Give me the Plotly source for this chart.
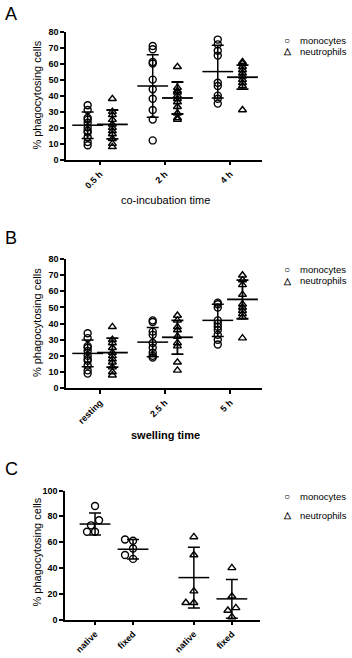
import plotly.graph_objects as go

# ---------------- data ----------------
A_categories = ["0.5 h", "2 h", "4 h"]
A_mono = [
    [34, 31, 26, 25, 23, 20, 18, 17, 14, 11, 9],
    [71, 69, 61, 60, 50, 44, 38, 31, 25, 12],
    [75, 72, 68, 65, 48, 46, 40, 38, 35],
]
A_neutro = [
    [38, 30, 28, 25, 22, 20, 18, 16, 13, 10, 8],
    [58, 45, 43, 42, 40, 38, 36, 33, 29, 26, 25],
    [61, 60, 58, 56, 54, 52, 50, 48, 46, 31],
]
A_mono_mean = [21.5, 46, 55]
A_mono_sd = [8.3, 19.5, 16.5]
A_neutro_mean = [22, 38.5, 51.5]
A_neutro_sd = [9, 10, 7.5]

B_categories = ["resting", "2.5 h", "5 h"]
B_mono = [
    [34, 31, 26, 25, 23, 20, 18, 17, 14, 11, 9],
    [42, 41, 35, 33, 28, 25, 22, 20, 19],
    [53, 52, 50, 42, 40, 38, 36, 33, 30, 27],
]
B_neutro = [
    [38, 30, 28, 25, 22, 20, 18, 16, 13, 10, 8],
    [45, 42, 38, 36, 32, 28, 26, 16, 11],
    [70, 67, 64, 58, 52, 50, 48, 46, 44, 31],
]
B_mono_mean = [21.5, 28.5, 42]
B_mono_sd = [8.3, 9, 10]
B_neutro_mean = [22, 31.5, 55]
B_neutro_sd = [9, 10.5, 12]

C_categories = ["native", "fixed", "native", "fixed"]
C_cell = ["monocytes", "monocytes", "neutrophils", "neutrophils"]
C_values = [
    [88, 77, 73, 68, 68],
    [62, 61, 55, 50, 47],
    [64, 50, 22, 13, 13],
    [40, 18, 9, 7, 2],
]
C_mean = [74, 54.5, 32.5, 16]
C_sd = [8.5, 7.5, 23.5, 15]

# ---------------- layout constants ----------------
W, H = 352, 658
FONT = "Liberation Sans, Arial, sans-serif"
GROUP_OFF = 0.19
C_POS = [0, 1, 2.6, 3.6]
SYM = {"monocytes": "circle-open", "neutrophils": "triangle-up-open"}


def px(xp):
    return xp / W


def py(yp):
    return 1 - yp / H


def swarm(vals, ypx, xpx, diam=7.0, step=4.0):
    placed = []
    res = [0.0] * len(vals)
    order = sorted(range(len(vals)), key=lambda i: vals[i])
    for i in order:
        y = vals[i] * ypx
        dx = 0.0
        for k in [0, -1, 1, -2, 2, -3, 3]:
            dx = k * step
            if all((dx - a) ** 2 + (y - b) ** 2 >= diam ** 2 for a, b in placed):
                break
        placed.append((dx, y))
        res[i] = dx / xpx
    return res


fig = go.Figure()


def add_points(xs, ys, sym, xa, ya):
    fig.add_trace(go.Scatter(
        x=xs, y=ys, mode="markers", xaxis=xa, yaxis=ya, showlegend=False,
        cliponaxis=False,
        marker=dict(symbol=sym, size=7, color="black", line=dict(width=1.4, color="black")),
    ))


def add_meansd(xs, means, sds, xa, ya, lw=1.5):
    fig.add_trace(go.Scatter(
        x=xs, y=means, mode="markers", xaxis=xa, yaxis=ya, showlegend=False,
        cliponaxis=False,
        marker=dict(symbol="line-ew", size=22, color="black", line=dict(width=lw, color="black")),
        error_y=dict(type="data", array=sds, visible=True, color="black", thickness=lw, width=6),
    ))


def panel(cats, mono, neutro, mm, ms, nm, ns, xa, ya):
    for i in range(len(cats)):
        add_points([i - GROUP_OFF] * len(mono[i]), mono[i], SYM["monocytes"], xa, ya)
        add_points([i + GROUP_OFF] * len(neutro[i]), neutro[i], SYM["neutrophils"], xa, ya)
    add_meansd([i - GROUP_OFF for i in range(len(cats))], mm, ms, xa, ya, 1.5)
    add_meansd([i + GROUP_OFF for i in range(len(cats))], nm, ns, xa, ya, 1.8)


panel(A_categories, A_mono, A_neutro, A_mono_mean, A_mono_sd, A_neutro_mean, A_neutro_sd, "x", "y")
panel(B_categories, B_mono, B_neutro, B_mono_mean, B_mono_sd, B_neutro_mean, B_neutro_sd, "x2", "y2")

for i, vals in enumerate(C_values):
    offs = swarm(vals, 1.31, 38.0)
    add_points([C_POS[i] + o for o in offs], vals, SYM[C_cell[i]], "x3", "y3")
add_meansd(C_POS, C_mean, C_sd, "x3", "y3", 1.5)

axis_common = dict(
    showline=True, linecolor="black", linewidth=1.5, ticks="outside", ticklen=4,
    tickwidth=1.5, tickcolor="black", showgrid=False, zeroline=False,
    tickfont=dict(family=FONT, size=9, color="black", weight="bold"),
)

fig.update_layout(
    width=W, height=H, margin=dict(l=0, r=0, t=0, b=0),
    paper_bgcolor="white", plot_bgcolor="white", showlegend=False,
    xaxis=dict(axis_common, domain=[px(66), px(262)], range=[-0.523, 2.49], anchor="y",
               tickvals=[0, 1, 2], ticktext=A_categories, tickangle=-45),
    yaxis=dict(axis_common, domain=[py(157), py(27)], range=[0, 80], dtick=10, anchor="x"),
    xaxis2=dict(axis_common, domain=[px(66), px(262)], range=[-0.523, 2.49], anchor="y2",
                tickvals=[0, 1, 2], ticktext=B_categories, tickangle=-45),
    yaxis2=dict(axis_common, domain=[py(389), py(258)], range=[0, 80], dtick=10, anchor="x2"),
    xaxis3=dict(axis_common, domain=[px(65), px(260)], range=[-0.79, 4.34], anchor="y3",
                tickvals=C_POS, ticktext=C_categories, tickangle=-45),
    yaxis3=dict(axis_common, domain=[py(624), py(493)], range=[0, 100], dtick=20, anchor="x3"),
)

ann = []


def text(x, y, s, size=10, bold=False, angle=0, xanchor="center"):
    ann.append(dict(x=px(x), y=py(y), xref="paper", yref="paper", text=s, showarrow=False,
                    textangle=angle, xanchor=xanchor, yanchor="middle",
                    font=dict(family=FONT, size=size, color="black",
                              weight="bold" if bold else "normal")))


# panel letters
text(3, 9, "A", size=18, xanchor="left")
text(3, 237, "B", size=18, xanchor="left")
text(3, 471, "C", size=18, xanchor="left")

# axis titles
text(37, 92, "% phagocytosing cells", size=11, angle=-90)
text(37, 323, "% phagocytosing cells", size=11, angle=-90)
text(37, 556, "% phagocytosing cells", size=11, angle=-90)
text(165, 198, "co-incubation time", size=11)
text(165, 437, "swelling time", size=11, bold=True)

# legends
for (y1, y2) in [(36, 47), (269, 280), (499, 518)]:
    text(287, y1, "○", size=10, bold=True)
    text(298, y1, "monocytes", size=9.5, xanchor="left")
    text(287, y2, "△", size=9, bold=True)
    text(298, y2, "neutrophils", size=9.5, xanchor="left")

fig.update_layout(annotations=ann)
fig.write_html("out.html")
